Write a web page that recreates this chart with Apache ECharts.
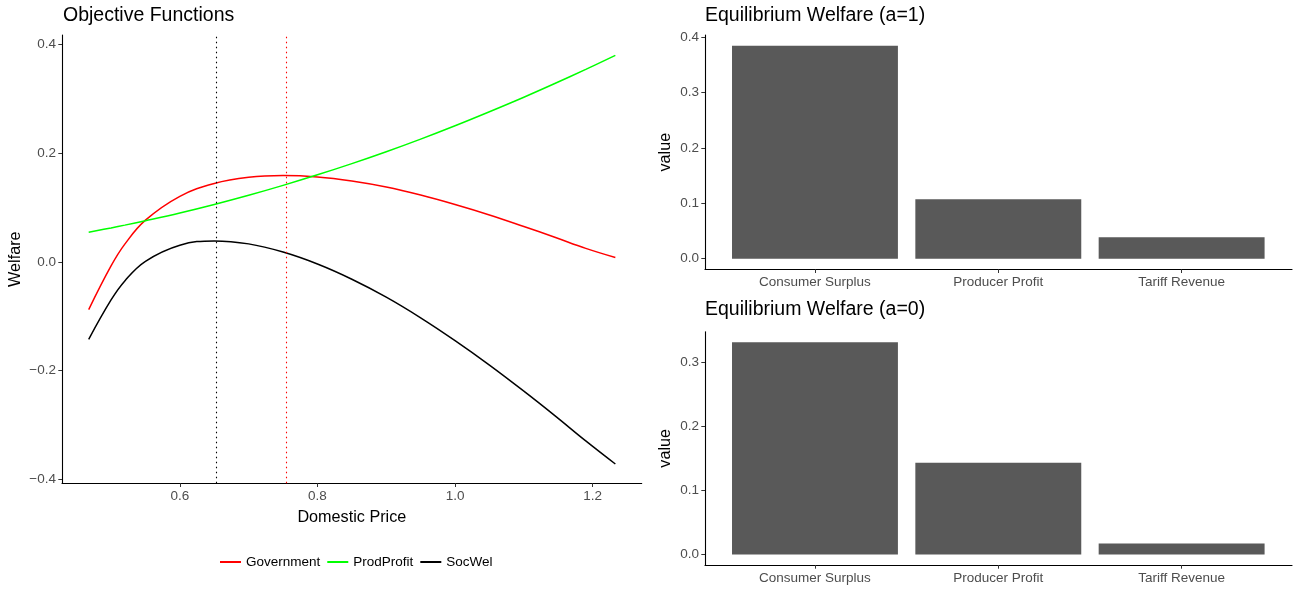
<!DOCTYPE html>
<html>
<head>
<meta charset="utf-8">
<script src="https://cdn.jsdelivr.net/npm/echarts@6/dist/echarts.min.js"></script>
<style>
html,body{margin:0;padding:0;background:#fff;}
#chart{width:1293px;height:590px;}
</style>
</head>
<body>
<div id="chart"></div>
<script>
// ---- Left panel: objective functions ----
const priceX   = [0.4675, 0.50, 0.52, 0.55, 0.60, 0.65, 0.70, 0.75, 0.80, 0.85, 0.90, 0.95, 1.00, 1.05, 1.10, 1.145, 1.19, 1.233];
const govVals  = [-0.0878, -0.0075, 0.0326, 0.0767, 0.1206, 0.1443, 0.1557, 0.1589, 0.1563, 0.1489, 0.1378, 0.1230, 0.1056, 0.0864, 0.0651, 0.0453, 0.0248, 0.0080];
const prodVals = [0.0547, 0.0625, 0.0676, 0.0757, 0.0900, 0.1057, 0.1226, 0.1408, 0.1602, 0.1808, 0.2027, 0.2259, 0.2505, 0.2763, 0.3030, 0.3282, 0.3543, 0.3800];
const socVals  = [-0.1425, -0.0700, -0.0350, 0.0010, 0.0306, 0.0386, 0.0331, 0.0181, -0.0039, -0.0319, -0.0649, -0.1029, -0.1449, -0.1899, -0.2379, -0.2829, -0.3295, -0.3720];
const seriesNames = ['Government', 'ProdProfit', 'SocWel'];
const optSocWelPrice = 0.653;
const optGovPrice = 0.755;
const priceTicks = [0.6, 0.8, 1.0, 1.2];
const welfareTicks = [-0.4, -0.2, 0.0, 0.2, 0.4];

// ---- Right panels: equilibrium welfare ----
const welfareCats = ['Consumer Surplus', 'Producer Profit', 'Tariff Revenue'];
const welfareA1 = [0.3843, 0.1073, 0.0386];
const welfareA0 = [0.3313, 0.1431, 0.0171];
const ticksA1 = [0.0, 0.1, 0.2, 0.3, 0.4];
const ticksA0 = [0.0, 0.1, 0.2, 0.3];

const FONT = 'Liberation Sans, Arial, sans-serif';
const TICKCOL = '#4D4D4D';
const fmt1 = v => (v < 0 ? '\u2212' + Math.abs(v).toFixed(1) : v.toFixed(1));

const pairs = vals => priceX.map((x, i) => [x, vals[i]]);

const axisLine = { show: true, onZero: false, lineStyle: { color: '#000', width: 1.1 } };
const axisTick = { show: true, length: 3.7, lineStyle: { color: '#333', width: 1 } };
const lblStyle = { color: TICKCOL, fontFamily: FONT, fontSize: 13.5 };

const chart = echarts.init(document.getElementById('chart'), null, { renderer: 'canvas' });

const option = {
  backgroundColor: '#fff',
  animation: false,
  title: [
    { text: 'Objective Functions', left: 63, top: 6, padding: 0,
      textStyle: { fontFamily: FONT, fontSize: 19.5, fontWeight: 'normal', color: '#000' } },
    { text: 'Equilibrium Welfare (a=1)', left: 705, top: 6, padding: 0,
      textStyle: { fontFamily: FONT, fontSize: 19.5, fontWeight: 'normal', color: '#000' } },
    { text: 'Equilibrium Welfare (a=0)', left: 705, top: 300, padding: 0,
      textStyle: { fontFamily: FONT, fontSize: 19.5, fontWeight: 'normal', color: '#000' } }
  ],
  legend: {
    data: seriesNames,
    left: 215, top: 550,
    icon: 'rect', itemWidth: 21, itemHeight: 2, itemGap: 7,
    textStyle: { fontFamily: FONT, fontSize: 13.5, color: '#000' }
  },
  grid: [
    { left: 62, right: 651.3, top: 35, bottom: 106.7 },      // 0 left lines
    { left: 705, right: 1, top: 35, bottom: 320.7 },          // 1 top bar frame
    { left: 723.3, right: 19.7, top: 35, bottom: 320.7 },     // 2 top bars
    { left: 705, right: 1, top: 331.7, bottom: 25 },          // 3 bottom bar frame
    { left: 723.3, right: 19.7, top: 331.7, bottom: 25 }      // 4 bottom bars
  ],
  xAxis: [
    { gridIndex: 0, type: 'value', min: 0.4287, max: 1.2713,
      axisLine, axisTick: Object.assign({ customValues: priceTicks }, axisTick),
      axisLabel: Object.assign({ customValues: priceTicks, margin: 6, formatter: v => v.toFixed(1) }, lblStyle),
      splitLine: { show: false },
      name: 'Domestic Price', nameLocation: 'middle', nameGap: 26,
      nameTextStyle: { fontFamily: FONT, fontSize: 16.2, color: '#000' } },
    { gridIndex: 1, type: 'value', min: 0, max: 1, axisLine,
      axisTick: { show: false }, axisLabel: { show: false }, splitLine: { show: false } },
    { gridIndex: 2, type: 'category', data: welfareCats, boundaryGap: true,
      axisLine: { show: false, onZero: false },
      axisTick: Object.assign({ alignWithLabel: true }, axisTick),
      axisLabel: Object.assign({ margin: 6, interval: 0 }, lblStyle) },
    { gridIndex: 3, type: 'value', min: 0, max: 1, axisLine,
      axisTick: { show: false }, axisLabel: { show: false }, splitLine: { show: false } },
    { gridIndex: 4, type: 'category', data: welfareCats, boundaryGap: true,
      axisLine: { show: false, onZero: false },
      axisTick: Object.assign({ alignWithLabel: true }, axisTick),
      axisLabel: Object.assign({ margin: 6, interval: 0 }, lblStyle) }
  ],
  yAxis: [
    { gridIndex: 0, type: 'value', min: -0.4075, max: 0.4175,
      axisLine, axisTick: Object.assign({ customValues: welfareTicks }, axisTick),
      axisLabel: Object.assign({ customValues: welfareTicks, margin: 6, formatter: fmt1 }, lblStyle),
      splitLine: { show: false },
      name: 'Welfare', nameLocation: 'middle', nameGap: 38,
      nameTextStyle: { fontFamily: FONT, fontSize: 16.2, color: '#000' } },
    { gridIndex: 1, type: 'value', min: -0.0192, max: 0.4035,
      axisLine, axisTick: Object.assign({ customValues: ticksA1 }, axisTick),
      axisLabel: Object.assign({ customValues: ticksA1, margin: 6, formatter: fmt1 }, lblStyle),
      splitLine: { show: false },
      name: 'value', nameLocation: 'middle', nameGap: 31,
      nameTextStyle: { fontFamily: FONT, fontSize: 16.2, color: '#000' } },
    { gridIndex: 2, type: 'value', min: -0.0192, max: 0.4035, show: false, splitLine: { show: false } },
    { gridIndex: 3, type: 'value', min: -0.0166, max: 0.3479,
      axisLine, axisTick: Object.assign({ customValues: ticksA0 }, axisTick),
      axisLabel: Object.assign({ customValues: ticksA0, margin: 6, formatter: fmt1 }, lblStyle),
      splitLine: { show: false },
      name: 'value', nameLocation: 'middle', nameGap: 31,
      nameTextStyle: { fontFamily: FONT, fontSize: 16.2, color: '#000' } },
    { gridIndex: 4, type: 'value', min: -0.0166, max: 0.3479, show: false, splitLine: { show: false } }
  ],
  series: [
    { name: seriesNames[0], type: 'line', xAxisIndex: 0, yAxisIndex: 0,
      data: pairs(govVals), smooth: 0.4, symbol: 'none', color: '#FF0000',
      lineStyle: { color: '#FF0000', width: 1.5 },
      markLine: { silent: true, symbol: 'none', precision: 4, label: { show: false },
        lineStyle: { color: '#FF0000', width: 1.1, type: [1.5, 3.5] },
        data: [{ xAxis: optGovPrice }] } },
    { name: seriesNames[1], type: 'line', xAxisIndex: 0, yAxisIndex: 0,
      data: pairs(prodVals), smooth: 0.4, symbol: 'none', color: '#00FF00',
      lineStyle: { color: '#00FF00', width: 1.5 } },
    { name: seriesNames[2], type: 'line', xAxisIndex: 0, yAxisIndex: 0,
      data: pairs(socVals), smooth: 0.4, symbol: 'none', color: '#000000',
      lineStyle: { color: '#000000', width: 1.5 },
      markLine: { silent: true, symbol: 'none', precision: 4, label: { show: false },
        lineStyle: { color: '#000000', width: 1.1, type: [1.5, 3.5] },
        data: [{ xAxis: optSocWelPrice }] } },
    { name: 'a1', type: 'bar', xAxisIndex: 2, yAxisIndex: 2, data: welfareA1,
      barWidth: '90.5%', itemStyle: { color: '#595959' }, silent: true },
    { name: 'a0', type: 'bar', xAxisIndex: 4, yAxisIndex: 4, data: welfareA0,
      barWidth: '90.5%', itemStyle: { color: '#595959' }, silent: true }
  ]
};
chart.setOption(option);
</script>
</body>
</html>
